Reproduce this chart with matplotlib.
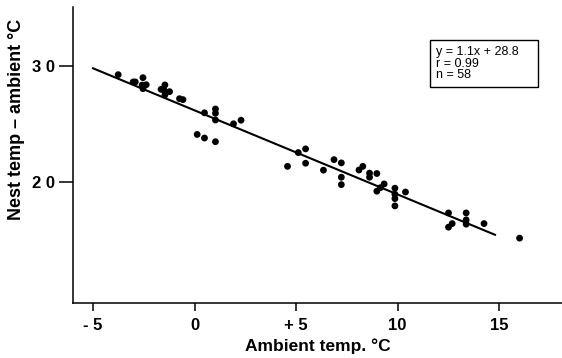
import numpy as np
import matplotlib.pyplot as plt

plt.rcParams['font.family'] = ['Liberation Sans', 'DejaVu Sans']

# ambient temperature (x) vs nest temp - ambient (y)
ambient = [-3.76, -3.02, -2.92, -2.54, -2.38, -2.58, -2.54, -1.46, -1.65, -1.23,
           -1.46, -1.50, -0.74, -0.57, 0.49, 1.03, 1.03, 1.03, 1.92, 2.29,
           0.13, 0.49, 1.03, 4.58, 5.11, 5.47, 5.47, 6.35, 6.87, 7.23,
           7.23, 7.23, 8.10, 8.29, 8.62, 8.62, 8.98, 8.98, 9.16, 9.34,
           9.87, 9.87, 9.87, 9.87, 10.39, 12.51, 12.51, 12.69, 13.38, 13.38,
           13.38, 14.26, 16.01]
nest_diff = [29.25, 28.62, 28.62, 28.99, 28.38, 28.35, 28.04, 28.36, 27.98, 27.78,
             27.49, 27.90, 27.17, 27.09, 25.95, 26.28, 25.91, 25.33, 25.00, 25.31,
             24.08, 23.77, 23.45, 21.32, 22.51, 22.83, 21.59, 20.99, 21.90, 21.62,
             20.38, 19.74, 21.00, 21.32, 20.73, 20.38, 20.70, 19.17, 19.48, 19.80,
             19.43, 18.91, 18.53, 17.90, 19.10, 17.29, 16.06, 16.37, 17.29, 16.69,
             16.32, 16.37, 15.11]

# fitted line end points
fit_x = [-5.0, 14.8]
fit_y = [29.8, 15.4]

x_ticks = [-5, 0, 5, 10, 15]
x_labels = ['- 5', '0', '+ 5', '10', '15']
y_ticks = [20, 30]
y_labels = ['2 0', '3 0']
stats_text = 'y = 1.1x + 28.8    \nr = 0.99\nn = 58'

fig = plt.figure(figsize=(5.62, 3.58), dpi=100)
ax = fig.add_axes([0.1294, 0.1536, 0.8706, 0.8268])

ax.plot(fit_x, fit_y, color='black', linewidth=1.5, zorder=2)
ax.scatter(ambient, nest_diff, s=24, color='black', edgecolors='none', zorder=3)

ax.set_xlim(-6.0, 18.1)
ax.set_ylim(9.5, 35.1)

ax.spines['top'].set_visible(False)
ax.spines['right'].set_visible(False)
for side in ['left', 'bottom']:
    ax.spines[side].set_linewidth(1.1)

ax.set_xticks(x_ticks)
ax.set_xticklabels(x_labels)
ax.set_yticks(y_ticks)
ax.set_yticklabels(y_labels)
ax.tick_params(axis='x', direction='out', length=6, width=1.1, labelsize=12, pad=5)
ax.tick_params(axis='y', direction='out', length=10, width=1.1, labelsize=12, pad=3)
for lbl in ax.get_xticklabels() + ax.get_yticklabels():
    lbl.set_fontweight('bold')

ax.set_xlabel('Ambient temp. °C', fontsize=12.5, fontweight='bold', labelpad=4)
ax.set_ylabel('Nest temp – ambient °C', fontsize=13, fontweight='bold', labelpad=8)
ax.yaxis.set_label_coords(-0.098, 0.62)

ax.text(0.742, 0.868, stats_text, transform=ax.transAxes, fontsize=9,
        va='top', ha='left', linespacing=0.95,
        bbox=dict(boxstyle='square,pad=0.45', facecolor='white', edgecolor='black', linewidth=1))

fig.savefig('out.png', dpi=100)
